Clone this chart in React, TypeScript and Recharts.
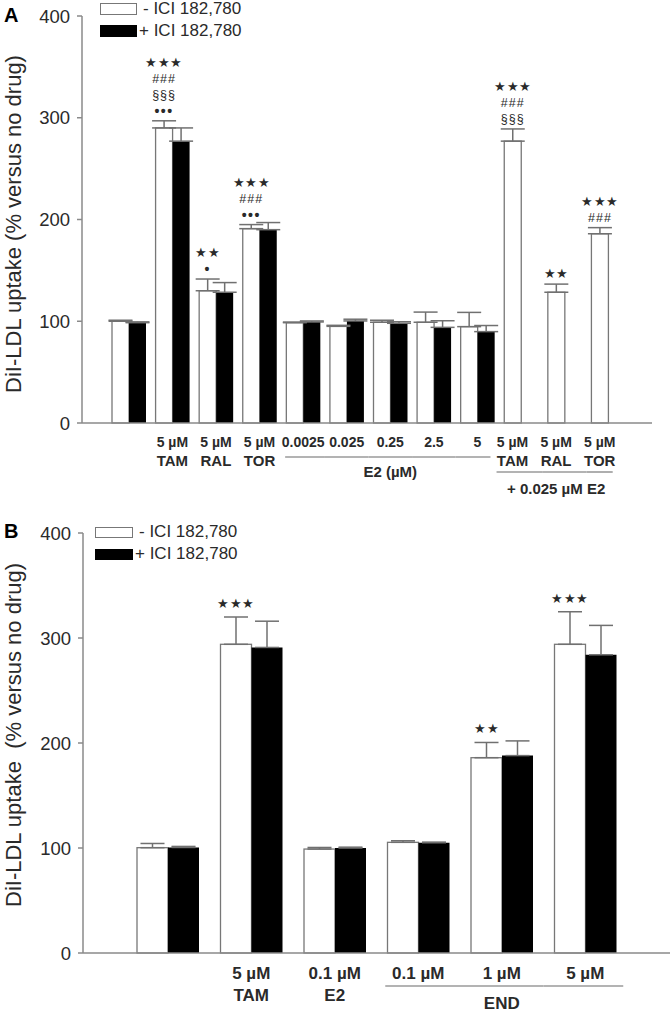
import React from 'react';
import { BarChart, Bar, XAxis, YAxis, ErrorBar, Legend } from 'recharts';

const FONT = '"Liberation Sans", Arial, Helvetica, sans-serif';
const AXIS = '#8a8a8a';
const INK = '#2a2a2a';
const OUTLINE = '#777';

// ---- panel A data ----
const A_KEYS = ['ctl', 'tam', 'ral', 'tor', 'e1', 'e2', 'e3', 'e4', 'e5', 'tamE2', 'ralE2', 'torE2'];
const A_TOP = ['', '5 µM', '5 µM', '5 µM', '0.0025', '0.025', '0.25', '2.5', '5', '5 µM', '5 µM', '5 µM'];
const A_BOTTOM = ['', 'TAM', 'RAL', 'TOR', '', '', '', '', '', 'TAM', 'RAL', 'TOR'];
const A_MINUS = [100, 290, 130, 191, 98.6, 95, 99, 99, 94.7, 277, 128.5, 186];
const A_MINUS_ERR = [1, 7, 11.5, 4, 0.6, 1, 2, 10, 14, 12, 8, 6];
const A_PLUS = [98.6, 277, 128.5, 190, 99.3, 100.3, 98, 94, 89.8, null, null, null];
const A_PLUS_ERR = [0.8, 13, 9.5, 7, 1, 1.7, 1.5, 6.5, 6, null, null, null];
const A_MARKS = [
  [], ['★★★', '###', '§§§', '•••'], ['★★', '•'], ['★★★', '###', '•••'],
  [], [], [], [], [],
  ['★★★', '###', '§§§'], ['★★'], ['★★★', '###'],
];
const A_GROUPS = [
  { label: 'E2 (µM)', from: 4, to: 8 },
  { label: '+ 0.025 µM E2', from: 9, to: 11 },
];
const A_YTICKS = [0, 100, 200, 300, 400];

// ---- panel B data ----
const B_KEYS = ['ctl', 'tam', 'e2', 'end01', 'end1', 'end5'];
const B_TOP = ['', '5 µM', '0.1 µM', '0.1 µM', '1 µM', '5 µM'];
const B_BOTTOM = ['', 'TAM', 'E2', '', '', ''];
const B_MINUS = [100.3, 294, 99, 105.4, 186, 294];
const B_MINUS_ERR = [4, 26, 1.5, 1.5, 14.5, 31];
const B_PLUS = [100.5, 291, 100, 105, 188, 284];
const B_PLUS_ERR = [1, 25, 0.8, 0.6, 14, 28];
const B_MARKS = [[], ['★★★'], [], [], ['★★'], ['★★★']];
const B_GROUPS = [{ label: 'END', from: 3, to: 5 }];
const B_YTICKS = [0, 100, 200, 300, 400];

const LEGEND = ['- ICI 182,780', '+ ICI 182,780'];
const Y_TITLE_A = 'DiI-LDL uptake (% versus no drug)';
const Y_TITLE_B = 'DiI-LDL uptake  (% versus no drug)';

type Row = {
  key: string;
  top: string;
  bottom: string;
  minus: number;
  minusErr: number;
  plus: number | null;
  plusErr: number | null;
  marks: string[];
};

function buildRows(keys: string[], top: string[], bottom: string[], minus: number[], minusErr: number[],
  plus: (number | null)[], plusErr: (number | null)[], marks: string[][]): Row[] {
  return keys.map((key, i) => ({
    key,
    top: top[i],
    bottom: bottom[i],
    minus: minus[i],
    minusErr: minusErr[i],
    plus: plus[i],
    plusErr: plusErr[i],
    marks: marks[i],
  }));
}

const A_ROWS = buildRows(A_KEYS, A_TOP, A_BOTTOM, A_MINUS, A_MINUS_ERR, A_PLUS, A_PLUS_ERR, A_MARKS);
const B_ROWS = buildRows(B_KEYS, B_TOP, B_BOTTOM, B_MINUS, B_MINUS_ERR, B_PLUS, B_PLUS_ERR, B_MARKS);

// layout / style per panel
const A_STYLE = {
  band: 523 / 12, barSize: 17, fontSize: 14, bottomSize: 15, titleSize: 15, row1: 19, row2: 37,
  lineDy: [34, 49], titleDy: [48, 65], trim: [[18, 13], [16, 13]],
  markGap: 10, markStep: 16,
};
const B_STYLE = {
  band: 501 / 6, barSize: 31, fontSize: 17, bottomSize: 17, titleSize: 17, row1: 20, row2: 42,
  lineDy: [33], titleDy: [50], trim: [[33, 38]],
  markGap: 13, markStep: 16,
};

function markStyle(m: string) {
  if (m.includes('★')) return { fontSize: 12.5, letterSpacing: 0.5 };
  if (m.includes('•')) return { fontSize: 14, letterSpacing: 1.5, fontWeight: 'bold' as const };
  return { fontSize: 12.5, letterSpacing: 1 };
}

function renderTick(p: any, rows: Row[], groups: typeof A_GROUPS, st: typeof A_STYLE) {
  const i = p.index ?? p.payload?.index;
  const r = rows[i];
  if (!r) return <g />;
  const { x, y } = p;
  const cx = r.plus == null ? x - st.barSize / 2 : x;
  const gi = groups.findIndex((g) => i >= g.from && i <= g.to);
  let line = null;
  let title = null;
  if (gi >= 0) {
    const g = groups[gi];
    const x1 = i === g.from ? cx - st.trim[gi][0] : x - st.band / 2;
    const x2 = i === g.to ? cx + st.trim[gi][1] : x + st.band / 2;
    const ly = y + st.lineDy[gi];
    line = <line x1={x1} x2={x2} y1={ly} y2={ly} stroke="#9a9a9a" strokeWidth={1.6} />;
    if (i === Math.round((g.from + g.to) / 2)) {
      title = (
        <text x={cx} y={y + st.titleDy[gi]} textAnchor="middle" dominantBaseline="central"
          fontFamily={FONT} fontWeight="bold" fontSize={st.titleSize} fill={INK}>{g.label}</text>
      );
    }
  }
  return (
    <g>
      {r.top && (
        <text x={cx} y={y + st.row1} textAnchor="middle" dominantBaseline="central"
          fontFamily={FONT} fontWeight="bold" fontSize={st.fontSize} fill={INK}>{r.top}</text>
      )}
      {r.bottom && (
        <text x={cx} y={y + st.row2} textAnchor="middle" dominantBaseline="central"
          fontFamily={FONT} fontWeight="bold" fontSize={st.bottomSize} fill={INK}>{r.bottom}</text>
      )}
      {line}
      {title}
    </g>
  );
}

function whiteShape(rows: Row[], st: typeof A_STYLE) {
  return (p: any) => {
    const { x, y, width, height } = p;
    const r: Row = rows[p.index] ?? p.payload;
    if (!r || !height) return <g />;
    const perUnit = height / r.minus;
    const capY = y - r.minusErr * perUnit;
    const cx = x + width / 2;
    const n = r.marks.length;
    return (
      <g>
        <rect x={x} y={y} width={width} height={height} fill="#fff" stroke={OUTLINE} strokeWidth={1.3} />
        {r.marks.map((m, k) => (
          <text key={k} x={cx} y={capY - st.markGap - (n - 1 - k) * st.markStep} textAnchor="middle"
            dominantBaseline="central" fontFamily={FONT} fill={INK} {...markStyle(m)}>{m}</text>
        ))}
      </g>
    );
  };
}

function legendContent(boxW: number, boxH: number) {
  return () => (
    <div style={{ fontFamily: FONT, fontSize: 17, color: INK, lineHeight: '22px' }}>
      {LEGEND.map((t, i) => (
        <div key={t} style={{ display: 'flex', alignItems: 'center', height: 22 }}>
          <span style={{
            display: 'inline-block', width: boxW, height: boxH, boxSizing: 'border-box',
            border: i === 0 ? `1.5px solid ${OUTLINE}` : '1.5px solid #000',
            background: i === 0 ? '#fff' : '#000', marginRight: i === 0 ? 6 : 2,
          }} />
          <span style={{ whiteSpace: 'pre' }}>{t}</span>
        </div>
      ))}
    </div>
  );
}

// panel letter and rotated y title, placed in the chart's own svg
function yTitle(text: string, letter: string, letterY: number, cy: number) {
  return () => {
    const cx = 13;
    return (
      <g>
        <text x={4} y={letterY} fontFamily={FONT} fontWeight="bold" fontSize={20} fill="#000">{letter}</text>
        <text x={cx} y={cy} transform={`rotate(-90, ${cx}, ${cy})`} textAnchor="middle" dominantBaseline="central"
          fontFamily={FONT} fontSize={22} fill={INK} style={{ whiteSpace: 'pre' }}>{text}</text>
      </g>
    );
  };
}

const errKey = (field: 'minusErr' | 'plusErr') => (d: Row) => (d[field] == null ? null : [0, d[field]]);

export default function App() {
  return (
    <div style={{ position: 'absolute', left: 0, top: 0, width: 670, height: 1014, background: '#fff' }}>
      <div style={{ position: 'absolute', left: 0, top: 0 }}>
        <BarChart width={670} height={498} data={A_ROWS} margin={{ top: 16, right: 18, bottom: 0, left: 0 }}
          barGap={0} barSize={A_STYLE.barSize}>
          <XAxis dataKey="key" interval={0} tickLine={false} tickSize={0} tickMargin={0} height={75}
            axisLine={{ stroke: AXIS, strokeWidth: 1.5 }} padding={{ left: 25, right: 22 }}
            tick={(p: any) => renderTick(p, A_ROWS, A_GROUPS, A_STYLE)} />
          <YAxis domain={[0, 400]} ticks={A_YTICKS} width={82} tickSize={5} tickMargin={7}
            axisLine={{ stroke: AXIS, strokeWidth: 1.5 }} tickLine={{ stroke: AXIS, strokeWidth: 1.5 }}
            tick={{ fontSize: 18.5, fill: INK, fontFamily: FONT }}
            label={{ content: yTitle(Y_TITLE_A, 'A', 22, 224) }} />
          <Legend layout="horizontal" verticalAlign="middle" align="center"
            wrapperStyle={{ top: -2, left: 100, width: 200 }} content={legendContent(37, 12)} />
          <Bar dataKey="minus" isAnimationActive={false} shape={whiteShape(A_ROWS, A_STYLE)}>
            <ErrorBar dataKey={errKey('minusErr')} direction="y" width={12} stroke="#707070" strokeWidth={1.5}
              isAnimationActive={false} />
          </Bar>
          <Bar dataKey="plus" fill="#000" isAnimationActive={false}>
            <ErrorBar dataKey={errKey('plusErr')} direction="y" width={12} stroke="#707070" strokeWidth={1.5}
              isAnimationActive={false} />
          </Bar>
        </BarChart>
      </div>
      <div style={{ position: 'absolute', left: 0, top: 510 }}>
        <BarChart width={670} height={503} data={B_ROWS} margin={{ top: 23, right: 0, bottom: 0, left: 0 }}
          barGap={0} barSize={B_STYLE.barSize}>
          <XAxis dataKey="key" interval={0} tickLine={false} tickSize={0} tickMargin={0} height={60}
            axisLine={{ stroke: AXIS, strokeWidth: 1.5 }} padding={{ left: 43, right: 43 }}
            tick={(p: any) => renderTick(p, B_ROWS, B_GROUPS, B_STYLE)} />
          <YAxis domain={[0, 400]} ticks={B_YTICKS} width={83} tickSize={5} tickMargin={7}
            axisLine={{ stroke: AXIS, strokeWidth: 1.5 }} tickLine={{ stroke: AXIS, strokeWidth: 1.5 }}
            tick={{ fontSize: 18.5, fill: INK, fontFamily: FONT }}
            label={{ content: yTitle(Y_TITLE_B, 'B', 28, 225) }} />
          <Legend layout="horizontal" verticalAlign="middle" align="center"
            wrapperStyle={{ top: 11, left: 95, width: 200 }} content={legendContent(38, 11)} />
          <Bar dataKey="minus" isAnimationActive={false} shape={whiteShape(B_ROWS, B_STYLE)}>
            <ErrorBar dataKey={errKey('minusErr')} direction="y" width={12} stroke="#707070" strokeWidth={1.5}
              isAnimationActive={false} />
          </Bar>
          <Bar dataKey="plus" fill="#000" isAnimationActive={false}>
            <ErrorBar dataKey={errKey('plusErr')} direction="y" width={12} stroke="#707070" strokeWidth={1.5}
              isAnimationActive={false} />
          </Bar>
        </BarChart>
      </div>
    </div>
  );
}
